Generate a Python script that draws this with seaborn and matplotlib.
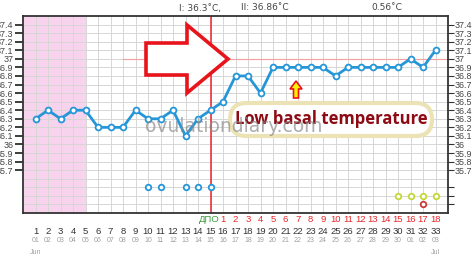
import numpy as np
import pandas as pd
import seaborn as sns
import matplotlib
matplotlib.use("Agg")
import matplotlib.pyplot as plt
from matplotlib.patches import Polygon, FancyBboxPatch
from matplotlib.transforms import blended_transform_factory

# ---------------- data ----------------
days = list(range(1, 34))
temps = [36.3, 36.4, 36.3, 36.4, 36.4, 36.2, 36.2, 36.2, 36.4, 36.3,
         36.3, 36.4, 36.1, 36.3, 36.4, 36.5, 36.8, 36.8, 36.6, 36.9,
         36.9, 36.9, 36.9, 36.9, 36.8, 36.9, 36.9, 36.9, 36.9, 36.9,
         37.0, 36.9, 37.1]
date_labels = ["01", "02", "03", "04", "05", "06", "07", "08", "09", "10",
               "11", "12", "13", "14", "15", "16", "17", "18", "19", "20",
               "21", "22", "23", "24", "25", "26", "27", "28", "29", "30",
               "01", "02", "03"]
dpo_days = list(range(16, 34))
dpo_labels = [str(i) for i in range(1, 19)]
month_days = [1, 33]
month_labels = ["Jun", "Jul"]
blue_mark_days = [10, 11, 13, 14, 15]
blue_mark_level = 35.5
green_mark_days = [30, 31, 32, 33]
green_mark_level = 35.4
red_mark_days = [32]
red_mark_level = 35.3
period_days = (0, 5)
ovulation_day = 15
coverline = 37.0
coverline_start = 8
ytick_vals = [35.7, 35.8, 35.9, 36.0, 36.1, 36.2, 36.3, 36.4, 36.5, 36.6,
              36.7, 36.8, 36.9, 37.0, 37.1, 37.2, 37.3, 37.4]
ytick_labels = ["35.7", "35.8", "35.9", "36", "36.1", "36.2", "36.3", "36.4",
                "36.5", "36.6", "36.7", "36.8", "36.9", "37", "37.1", "37.2",
                "37.3", "37.4"]
header_texts = ["I: 36.3˚C,", "II: 36.86˚C", "0.56˚C"]

# ---------------- figure ----------------
sns.set_theme(style="white")
plt.rcParams['font.family'] = ['Liberation Sans', 'DejaVu Sans']
W, H = 474, 258
fig = plt.figure(figsize=(W / 100, H / 100), dpi=100)
ax = fig.add_axes([23 / W, 1 - 213 / H, (448 - 23) / W, (213 - 16) / H])

def fx(px):
    return px / W

def fy(py):
    return 1 - py / H

ax.set_xlim(0, 34)
ax.set_ylim(35.2, 37.5)

# period shading
ax.axvspan(period_days[0], period_days[1], color="#f7d3ee", zorder=0.5, lw=0)

# grid
for d in range(1, 34):
    ax.axvline(d, color="#d6d6d6", lw=0.7, zorder=1)
for yv in np.arange(35.3, 37.45, 0.1):
    ax.axhline(yv, color="#d6d6d6", lw=0.7, zorder=1)

# coverline
ax.plot([coverline_start, 34], [coverline, coverline], color="#f4a0a0", lw=0.8, zorder=1.5)

# ovulation line
ax.axvline(ovulation_day, color="#e8262b", lw=1.1, zorder=2)

# temperature line
df = pd.DataFrame({"day": days, "temp": temps})
sns.lineplot(data=df, x="day", y="temp", ax=ax, color="#2596d8", lw=2.0,
             marker="o", markersize=4.2, markerfacecolor="white",
             markeredgecolor="#2596d8", markeredgewidth=1.3, zorder=3)

# bottom markers
sns.scatterplot(x=blue_mark_days, y=[blue_mark_level] * len(blue_mark_days), ax=ax,
                s=16, facecolor="white", edgecolor="#2596d8", linewidth=1.3, zorder=3)
sns.scatterplot(x=green_mark_days, y=[green_mark_level] * len(green_mark_days), ax=ax,
                s=16, facecolor="white", edgecolor="#c5d83a", linewidth=1.3, zorder=3)
sns.scatterplot(x=red_mark_days, y=[red_mark_level] * len(red_mark_days), ax=ax,
                s=16, facecolor="white", edgecolor="#cc3a3a", linewidth=1.3, zorder=3)

ax.set_xlabel("")
ax.set_ylabel("")
for s in ax.spines.values():
    s.set_color("#333333")
    s.set_linewidth(1.3)

# y ticks left and right
ax.set_yticks(ytick_vals)
ax.set_yticklabels(ytick_labels)
ax.tick_params(axis="y", which="both", left=False, right=False, labelsize=6.4,
               labelcolor="#444444", pad=1, labelleft=True)
ax.set_xticks([])
axr = ax.twinx()
axr.set_ylim(ax.get_ylim())
axr.set_yticks(ytick_vals + [35.5, 35.4, 35.3])
axr.set_yticklabels(ytick_labels + ["", "", ""])
axr.tick_params(axis="y", right=True, length=4, width=0.8, color="#333333",
                labelsize=6.4, labelcolor="#444444", pad=0.5)
for s in axr.spines.values():
    s.set_visible(False)

# x labels rows
tb = blended_transform_factory(ax.transData, fig.transFigure)
for d in days:
    ax.text(d, fy(232), str(d), transform=tb, ha="center", va="center",
            fontsize=6.8, color="#333333")
    ax.text(d, fy(240), date_labels[d - 1], transform=tb, ha="center", va="center",
            fontsize=5, color="#a0a0a0")
for d, lab in zip(dpo_days, dpo_labels):
    ax.text(d, fy(220), lab, transform=tb, ha="center", va="center",
            fontsize=6.8, color="#e8262b")
ax.text(ovulation_day - 0.1, fy(219.5), "ДПО", transform=tb, ha="center", va="center",
        fontsize=6.8, color="#3a9a3a")
for d, lab in zip(month_days, month_labels):
    ax.text(d, fy(252), lab, transform=tb, ha="center", va="center",
            fontsize=5, color="#a0a0a0")

# header
for x, t in zip([200, 265, 387], header_texts):
    fig.text(fx(x), fy(8), t, ha="center", va="center", fontsize=6.5, color="#444444",
             family=["DejaVu Sans"])

# big red arrow
arrow_px = [(146, 43), (187, 43), (187, 25), (228, 59), (187, 93), (187, 75), (146, 75)]
ax.add_patch(Polygon([(fx(x), fy(y)) for x, y in arrow_px], closed=True,
                     transform=fig.transFigure, facecolor="white", edgecolor="#e8141c",
                     lw=2.6, zorder=4, joinstyle="miter"))

# small yellow arrow
small_px = [(296, 81), (302, 89), (298.5, 89), (298.5, 98), (293.5, 98), (293.5, 89), (290, 89)]
ax.add_patch(Polygon([(fx(x), fy(y)) for x, y in small_px], closed=True,
                     transform=fig.transFigure, facecolor="#fff200", edgecolor="#e8141c",
                     lw=1.2, zorder=4))

# text box
box = FancyBboxPatch((fx(230), fy(136)), fx(432) - fx(230), fy(103) - fy(136),
                     boxstyle="round,pad=0,rounding_size=0.035",
                     transform=fig.transFigure, facecolor="white", edgecolor="#ebe3b5",
                     lw=3, zorder=4, mutation_aspect=W / H)
ax.add_patch(box)
fig.text(fx(331), fy(119), "Low basal temperature", ha="center", va="center",
         fontsize=12, fontweight="bold", color="#8e0a14", family=["Open Sans"], zorder=5)

# watermark
fig.text(fx(234), fy(127), "ovulationdiary.com", ha="center", va="center",
         fontsize=13.5, color="#8a8a8a", alpha=0.7, zorder=6, family=["DejaVu Sans"])

fig.savefig("out.png", dpi=100)
